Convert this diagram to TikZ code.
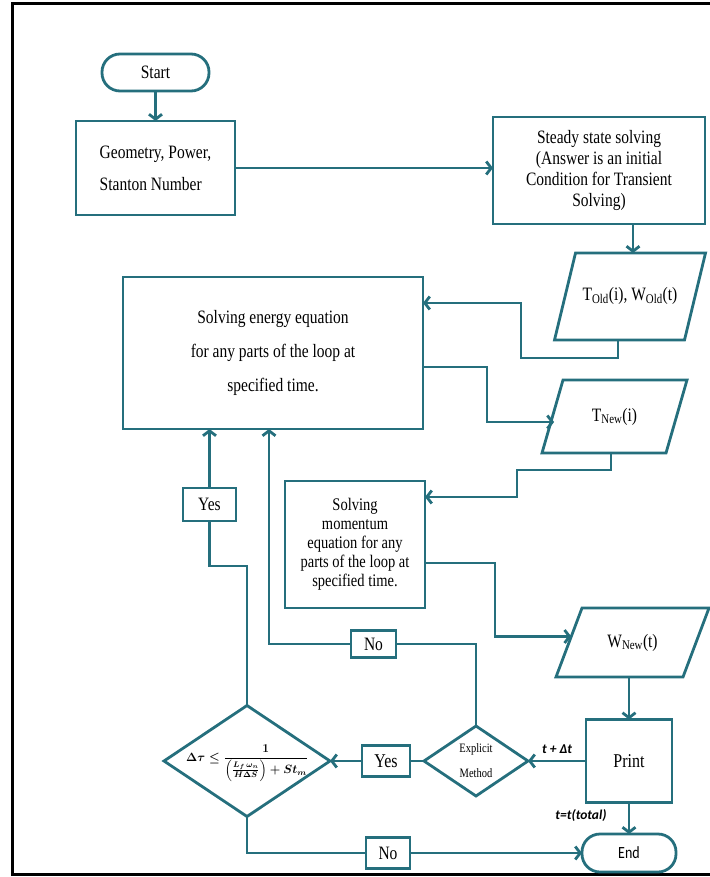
\documentclass[tikz,border=0pt]{standalone}
\usepackage{amsmath}
\usepackage{graphicx}
\usepackage{fontspec}
\setmainfont{Liberation Serif}
\newfontfamily\sansf{Carlito}
\usetikzlibrary{shapes.geometric,arrows.meta,calc}
\definecolor{tealc}{RGB}{37,111,125}
\newcommand{\vs}[1]{\scalebox{1}[1.22]{#1}}
\begin{document}
\begin{tikzpicture}[x=1pt,y=-1pt,
  every node/.style={inner sep=0pt,outer sep=0pt},
  ln/.style={draw=tealc,line width=2.8pt},
  arr/.style={ln,-{Straight Barb[length=5pt,width=13pt]}},
  fc/.style={font=\fontsize{15.5}{21}\selectfont},
  box/.style={rectangle,draw=tealc,line width=2.8pt,fill=white,fc,align=center},
  term/.style={box,rounded corners=18pt},
  lbl/.style={rectangle,draw=tealc,line width=2.8pt,fill=white,fc},
  pnode/.style={rectangle,fc,align=center},
  dia/.style={diamond,draw=tealc,line width=2.8pt,fill=white,aspect=1.5,align=center},
  tlab/.style={font=\sansf\bfseries\itshape\fontsize{13.5}{15}\selectfont}
]
\useasboundingbox (0,0) rectangle (709,877);
\draw[black,line width=2.2pt] (12.5,3.5) rectangle (730,874.5);

% nodes
\node[term,minimum width=107,minimum height=37] (start) at (155.5,72.5) {\vs{Start}};
\node[box,minimum width=159,minimum height=94,align=left,font=\fontsize{15.5}{32}\selectfont] (geom) at (155.5,168) {\vs{Geometry, Power,}\\\vs{Stanton Number}};
\node[box,minimum width=212,minimum height=107] (steady) at (599,170.5) {\vs{Steady state solving}\\\vs{(Answer is an initial}\\\vs{Condition for Transient}\\\vs{Solving)}};
\node[pnode,minimum width=130,minimum height=87] (told) at (630,296.5) {\raisebox{5pt}{\vs{T\textsubscript{Old}(i), W\textsubscript{Old}(t)}}};
\node[box,minimum width=300,minimum height=152,font=\fontsize{15.5}{34}\selectfont] (energy) at (273,353) {\vs{Solving energy equation}\\\vs{for any parts of the loop at}\\\vs{specified time.}};
\node[pnode,minimum width=124,minimum height=73] (tnew) at (614.5,416.5) {\raisebox{-6pt}{\vs{T\textsubscript{New}(i)}}};
\node[box,minimum width=140,minimum height=127,font=\fontsize{14.5}{19}\selectfont] (momentum) at (355,544.5) {\vs{Solving}\\\vs{momentum}\\\vs{equation for any}\\\vs{parts of the loop at}\\\vs{specified time.}};
\node[pnode,minimum width=127,minimum height=69] (wnew) at (632.5,642.5) {\raisebox{4pt}{\vs{W\textsubscript{New}(t)}}};
\node[box,minimum width=86,minimum height=83,font=\fontsize{16}{18}\selectfont] (print) at (629,761) {\vs{Print}};
\node[term,minimum width=94,minimum height=38,font=\sansf\fontsize{14}{16}\selectfont] (end) at (629,853) {\vs{End}};
\node[dia,minimum width=104,minimum height=70,font=\fontsize{10.5}{25}\selectfont] (explicit) at (476,761) {\vs{Explicit}\\\vs{Method}};
\node[dia,minimum width=166,minimum height=111,font=\fontsize{12}{14}\selectfont\boldmath] (cond) at (247,761) {\smash{\makebox[0pt]{$\Delta\tau \leq \dfrac{1}{\left(\frac{L_f\,\omega_n}{H\Delta S}\right)+St_m}$}}};
\node[lbl,minimum width=53,minimum height=33] (yes1) at (209.5,504.5) {\vs{Yes}};
\node[lbl,minimum width=45,minimum height=27] (no1) at (373.5,644) {\vs{No}};
\node[lbl,minimum width=48,minimum height=31,font=\fontsize{16}{18}\selectfont] (yes2) at (386,761) {\vs{Yes}};
\node[lbl,minimum width=44,minimum height=31] (no2) at (388,853) {\vs{No}};

% parallelogram outlines
\draw[ln] ($(told.south west)+(-10.5,0)$) -- ($(told.north west)+(10.5,0)$) -- ($(told.north east)+(10.5,0)$) -- ($(told.south east)+(-10.5,0)$) -- cycle;
\draw[ln] ($(tnew.south west)+(-10.5,0)$) -- ($(tnew.north west)+(10.5,0)$) -- ($(tnew.north east)+(10.5,0)$) -- ($(tnew.south east)+(-10.5,0)$) -- cycle;
\draw[ln] ($(wnew.south west)+(-13,0)$) -- ($(wnew.north west)+(13,0)$) -- ($(wnew.north east)+(13,0)$) -- ($(wnew.south east)+(-13,0)$) -- cycle;

% connectors
\draw[arr] (start) -- (geom);
\draw[arr] (geom.east |- 0,168) -- (steady.west |- 0,168);
\draw[arr] (steady.south -| 633,0) -- (told.north -| 633,0);
\draw[arr] ([xshift=-12pt]told.south) |- (521,358) |- (energy.east |- 0,303);
\draw[arr] (energy.east |- 0,367) -- (487,367) |- ($(tnew.west)+(1.6,5.5)$);
\draw[arr] ([xshift=-3.5pt]tnew.south) |- (517,470) |- (momentum.east |- 0,497);
\draw[arr] (momentum.east |- 0,563) -- (495,563) |- ($(wnew.west)+(2.3,-6)$);
\draw[arr] (print.north |- wnew.south) -- (print.north);
\draw[arr] (print.west) -- (explicit.east) node[tlab,pos=0.5,above=7pt] {t + Δt};
\draw[ln] (explicit.west) -- (yes2.east);
\draw[arr] (yes2.west) -- (cond.east);
\draw[ln] (explicit.north) |- (no1.east);
\draw[arr] (no1.west) -| ([xshift=-4pt]energy.south);
\draw[ln] (cond.north) |- (yes1.south |- 0,566) -- (yes1.south);
\draw[arr] (yes1.north) -- (yes1.north |- energy.south);
\draw[ln] (cond.south) |- (no2.west);
\draw[arr] (no2.east) -- (end.west);
\draw[arr] (print.south) -- (end.north);
\node[tlab] (ttot) at (581,816) {t=t(total)};
\end{tikzpicture}
\end{document}
